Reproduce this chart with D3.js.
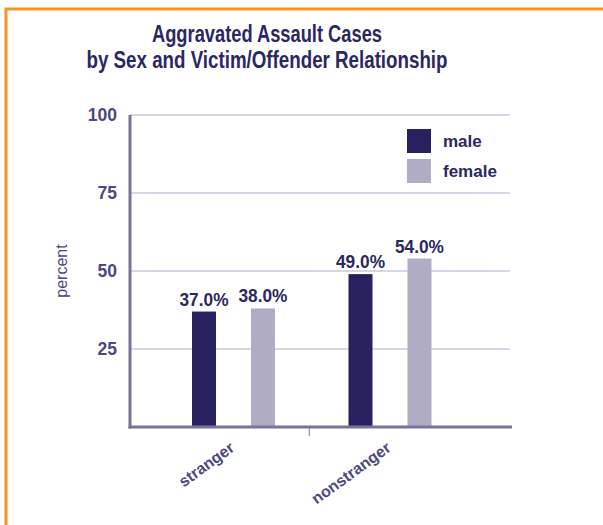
<!DOCTYPE html>
<html>
<head>
<meta charset="utf-8">
<script src="https://cdn.jsdelivr.net/npm/d3@7"></script>
<style>
  html, body { margin: 0; padding: 0; background: #fff; }
  svg { display: block; }
</style>
</head>
<body>
<svg id="chart" width="603" height="525"></svg>
<script>
const titleLines = ["Aggravated Assault Cases", "by Sex and Victim/Offender Relationship"];
const categories = ["stranger", "nonstranger"];
const seriesNames = ["male", "female"];
const maleValues = [37.0, 49.0];
const femaleValues = [38.0, 54.0];
const yTicks = [25, 50, 75, 100];
const yLabel = "percent";

const colors = { male: "#27215f", female: "#b1acc6" };
const titleColor = "#2b2762";
const tickColor = "#4d4783";
const axisColor = "#7a7399";
const gridColor = "#cbc7db";
const borderColor = "#f7941d";
const FONT = "'Liberation Sans', Arial, sans-serif";

const data = categories.map((c, i) => ({ category: c, male: maleValues[i], female: femaleValues[i] }));

const svg = d3.select("#chart");

// orange frame (top and left edges)
svg.append("path")
  .attr("d", "M6,525 V9 H603")
  .attr("fill", "none")
  .attr("stroke", borderColor)
  .attr("stroke-width", 3);

const y = d3.scaleLinear().domain([0, 100]).range([427, 115]);
const x0 = d3.scaleBand().domain(categories).range([155.25, 468.25]).paddingInner(0).paddingOuter(0);
const x1 = d3.scaleBand().domain(seriesNames).range([-41.5, 41.5]).paddingInner(0.593).paddingOuter(0);

const plotLeft = 130, plotRight = 512;

// title (condensed look via textLength)
const titleWidths = [230, 361];
titleLines.forEach((t, i) => {
  svg.append("text")
    .attr("x", 267 - titleWidths[i] / 2)
    .attr("y", 42 + i * 26)
    .attr("textLength", titleWidths[i])
    .attr("lengthAdjust", "spacingAndGlyphs")
    .attr("fill", titleColor)
    .style("font-family", FONT)
    .style("font-weight", "bold")
    .style("font-size", "23.5px")
    .text(t);
});

// gridlines
svg.append("g")
  .selectAll("line")
  .data(yTicks)
  .join("line")
  .attr("x1", plotLeft)
  .attr("x2", 510)
  .attr("y1", d => y(d))
  .attr("y2", d => y(d))
  .attr("stroke", gridColor)
  .attr("stroke-width", 1.5);

// y axis
const yAxis = d3.axisLeft(y).tickValues(yTicks).tickSize(0).tickPadding(13);
const yg = svg.append("g").attr("transform", `translate(${plotLeft},0)`).call(yAxis);
yg.select(".domain").remove();
yg.selectAll("text")
  .attr("fill", tickColor)
  .style("font-family", FONT)
  .style("font-weight", "bold")
  .style("font-size", "17.5px");
svg.append("line")
  .attr("x1", plotLeft).attr("x2", plotLeft)
  .attr("y1", y(100)).attr("y2", y(0) + 1.5)
  .attr("stroke", axisColor).attr("stroke-width", 3);

// y label
svg.append("text")
  .attr("transform", `translate(67,271) rotate(-90)`)
  .attr("text-anchor", "middle")
  .attr("fill", tickColor)
  .style("font-family", FONT)
  .style("font-size", "16px")
  .text(yLabel);

// bars
const groups = svg.append("g")
  .selectAll("g")
  .data(data)
  .join("g")
  .attr("transform", d => `translate(${x0(d.category) + x0.bandwidth() / 2},0)`);

groups.selectAll("rect")
  .data(d => seriesNames.map(k => ({ key: k, value: d[k] })))
  .join("rect")
  .attr("x", d => x1(d.key))
  .attr("width", x1.bandwidth())
  .attr("y", d => y(d.value))
  .attr("height", d => y(0) - y(d.value))
  .attr("fill", d => colors[d.key]);

groups.selectAll("text.val")
  .data(d => seriesNames.map(k => ({ key: k, value: d[k] })))
  .join("text")
  .attr("class", "val")
  .attr("x", d => x1(d.key) + x1.bandwidth() / 2 - 24.5)
  .attr("y", d => y(d.value) - 6)
  .attr("textLength", 49)
  .attr("lengthAdjust", "spacingAndGlyphs")
  .attr("fill", titleColor)
  .style("font-family", FONT)
  .style("font-weight", "bold")
  .style("font-size", "18.5px")
  .text(d => d.value.toFixed(1) + "%");

// x axis baseline
svg.append("line")
  .attr("x1", plotLeft - 1.5).attr("x2", plotRight)
  .attr("y1", y(0)).attr("y2", y(0))
  .attr("stroke", axisColor).attr("stroke-width", 3);
// middle divider tick
svg.append("line")
  .attr("x1", x0(categories[1]) - 2.5).attr("x2", x0(categories[1]) - 2.5)
  .attr("y1", y(0)).attr("y2", y(0) + 9)
  .attr("stroke", axisColor).attr("stroke-width", 1);

// x labels
svg.append("g")
  .selectAll("text")
  .data(categories)
  .join("text")
  .attr("transform", d => `translate(${x0(d) + x0.bandwidth() / 2 + 2},450) rotate(-36)`)
  .attr("text-anchor", "end")
  .attr("fill", tickColor)
  .style("font-family", FONT)
  .style("font-weight", "bold")
  .style("font-size", "16px")
  .text(d => d);

// legend
const legend = svg.append("g").attr("transform", "translate(407,129)");
seriesNames.forEach((k, i) => {
  const g = legend.append("g").attr("transform", `translate(0,${i * 30})`);
  g.append("rect").attr("width", 24).attr("height", 24).attr("fill", colors[k]);
  g.append("text")
    .attr("x", 36).attr("y", 18)
    .attr("fill", titleColor)
    .style("font-family", FONT)
    .style("font-weight", "bold")
    .style("font-size", "17px")
    .text(k);
});
</script>
</body>
</html>
